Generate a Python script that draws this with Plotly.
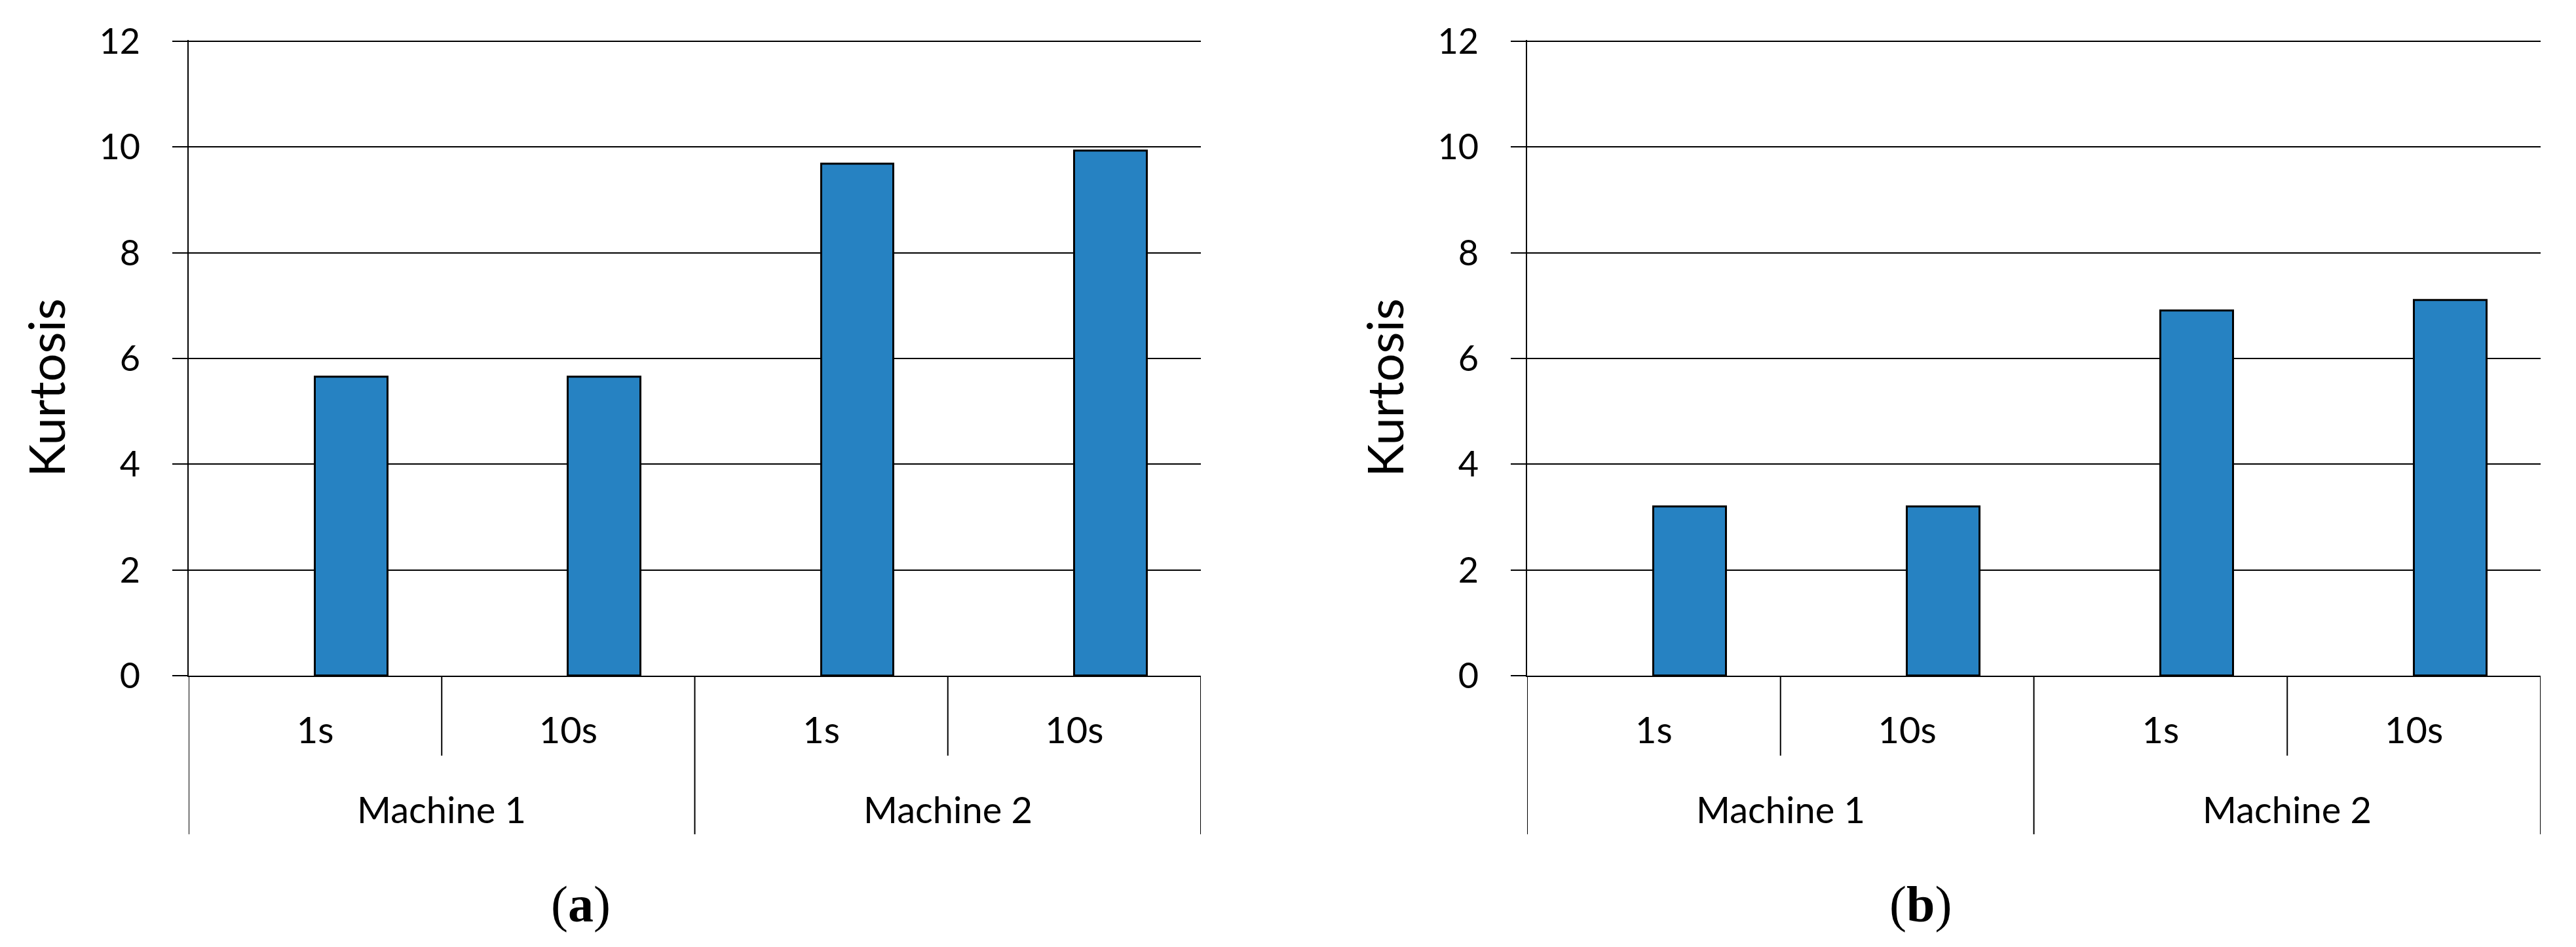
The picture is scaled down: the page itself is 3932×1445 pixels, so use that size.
import plotly.graph_objects as go

# data
MACHINES = ["Machine 1", "Machine 2"]
INTERVALS = ["1s", "10s"]
KURT_A = [5.65, 5.65, 9.68, 9.92]
KURT_B = [3.19, 3.19, 6.90, 7.10]
Y_TICKS = [0, 2, 4, 6, 8, 10, 12]
PANEL_LABELS = ["a", "b"]

BLUE = "#2682C2"
W, H = 3932, 1445
FONT = "Lato"

# category rows: every interval under every machine
inner = [iv for m in MACHINES for iv in INTERVALS]
outer = [m for m in MACHINES for iv in INTERVALS]
xs = list(range(len(inner)))

# panel geometry (pixels from the reference -> paper coords)
Y_TOP = 12.02          # a hair above 12 so the top gridline is kept
px_zero, px_unit = 1031, 80.67
x_domains = [[288 / W, 1833 / W], [2331 / W, 3878 / W]]
y_domain = [(H - px_zero) / H, (H - (px_zero - Y_TOP * px_unit)) / H]
y_inner_end = (H - 1153) / H
y_outer_end = (H - 1273) / H

fig = go.Figure()
shapes = []
annotations = []

for p, vals in enumerate([KURT_A, KURT_B]):
    sfx = "" if p == 0 else str(p + 1)
    fig.add_trace(go.Bar(
        x=xs, y=vals,
        xaxis="x" + sfx, yaxis="y" + sfx,
        width=0.287, offset=0,
        marker={"color": BLUE, "line": {"color": "black", "width": 3}},
        showlegend=False,
    ))

    fig.update_layout(**{
        "xaxis" + sfx: {
            "domain": x_domains[p],
            "anchor": "y" + sfx,
            "range": [-0.5, len(xs) - 0.5],
            "tickvals": xs,
            "ticktext": inner,
            "ticks": "",
            "showgrid": False,
            "zeroline": False,
            "showline": True,
            "linecolor": "black",
            "linewidth": 2,
            "automargin": False,
            "tickfont": {"family": FONT, "size": 56, "color": "black"},
            "ticklabelstandoff": 34,
        },
        "yaxis" + sfx: {
            "domain": y_domain,
            "anchor": "x" + sfx,
            "range": [0, Y_TOP],
            "tickvals": Y_TICKS,
            "showgrid": True,
            "gridcolor": "black",
            "gridwidth": 2,
            "zeroline": False,
            "showline": True,
            "linecolor": "black",
            "linewidth": 2,
            "automargin": False,
            "ticks": "outside",
            "ticklen": 23,
            "tickwidth": 2,
            "tickcolor": "black",
            "tickfont": {"family": FONT, "size": 54, "color": "black"},
            "ticklabelstandoff": 38,
        },
    })

    # divider lines under the axis
    for k in range(len(xs) + 1):
        is_outer = k % len(INTERVALS) == 0
        shapes.append({
            "type": "line", "xref": "x" + sfx, "yref": "paper",
            "x0": k - 0.5, "x1": k - 0.5,
            "y0": y_domain[0], "y1": y_outer_end if is_outer else y_inner_end,
            "line": {"color": "black", "width": 2},
        })

    # machine labels
    for m in MACHINES:
        idx = [i for i, o in enumerate(outer) if o == m]
        annotations.append({
            "text": m, "xref": "x" + sfx, "yref": "paper",
            "x": sum(idx) / len(idx), "y": (H - 1234) / H,
            "showarrow": False, "xanchor": "center", "yanchor": "middle",
            "font": {"family": FONT, "size": 56, "color": "black"},
        })

    # y axis title
    annotations.append({
        "text": "Kurtosis", "xref": "paper", "yref": "paper",
        "x": (x_domains[p][0] * W - 218) / W, "y": (H - 592) / H,
        "textangle": -90, "showarrow": False,
        "xanchor": "center", "yanchor": "middle",
        "font": {"family": FONT, "size": 76, "color": "black"},
    })

    # panel letter
    annotations.append({
        "text": "(<b>" + PANEL_LABELS[p] + "</b>)", "xref": "paper", "yref": "paper",
        "x": [886, 2931][p] / W, "y": (H - 1379) / H,
        "showarrow": False, "xanchor": "center", "yanchor": "middle",
        "font": {"family": "Liberation Serif", "size": 78, "color": "black"},
    })

fig.update_layout(
    template="none",
    width=W, height=H,
    autosize=False,
    margin={"l": 0, "r": 0, "t": 0, "b": 0, "pad": 0},
    paper_bgcolor="white",
    plot_bgcolor="white",
    shapes=shapes,
    annotations=annotations,
    bargap=0,
)

fig.write_html(
    "out.html",
    config={"displayModeBar": False},
    post_script="document.body.style.margin='0';",
)
